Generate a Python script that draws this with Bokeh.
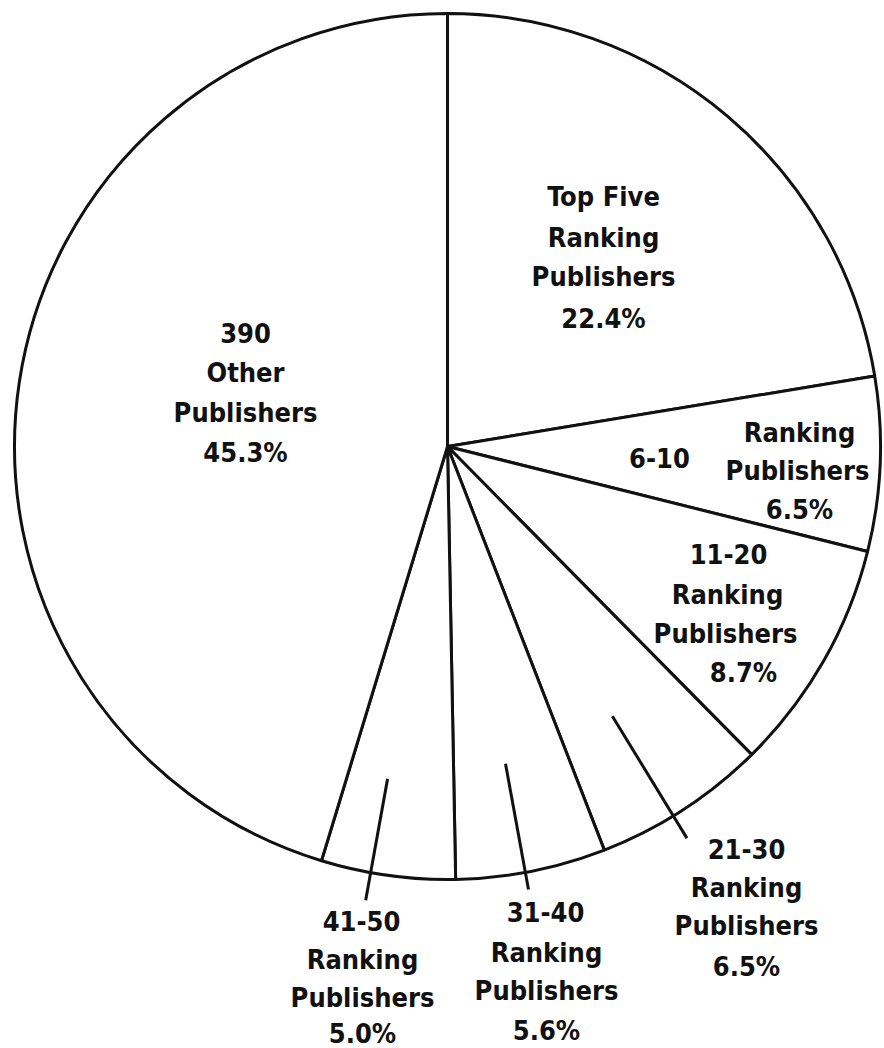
import numpy as np
from bokeh.plotting import figure
from bokeh.models import Range1d, ColumnDataSource
from bokeh.core.properties import value
from bokeh.embed import file_html
from bokeh.resources import INLINE

# ---- data ----
slices = ["Top Five", "6-10", "11-20", "21-30", "31-40", "41-50", "390 Other"]
shares = [22.4, 6.5, 8.7, 6.5, 5.6, 5.0, 45.3]
name_lines = [
    ["Top Five", "Ranking", "Publishers"],
    ["6-10", "Ranking", "Publishers"],
    ["11-20", "Ranking", "Publishers"],
    ["21-30", "Ranking", "Publishers"],
    ["31-40", "Ranking", "Publishers"],
    ["41-50", "Ranking", "Publishers"],
    ["390", "Other", "Publishers"],
]

# ---- layout (pixel coordinates, y measured from top) ----
W, H = 884, 1048
CX, CY, R = 447, 446, 433
text_pos = [
    [(603, 196), (603, 237), (603, 276), (603, 318)],
    [(659, 457), (799, 432), (797, 470), (799, 509)],
    [(728, 553), (727, 594), (725, 633), (743, 672)],
    [(746, 848), (746, 887), (746, 925), (746, 966)],
    [(545, 911), (546, 952), (546, 990), (546, 1030)],
    [(361, 920), (362, 959), (362, 997), (362, 1033)],
    [(245, 332), (245, 372), (245, 412), (245, 452)],
]
# leader lines: (slice index, angle offset deg, inner radius frac, outer radius frac)
leaders = [(3, -1.5, 0.73, 1.06), (4, -0.8, 0.745, 1.04), (5, -2.3, 0.78, 1.065)]

cy_data = H - CY

# wedge angles: start at 12 o'clock, go clockwise
vals = np.array(shares, dtype=float)
bounds = 90.0 - 360.0 * np.concatenate([[0.0], np.cumsum(vals)]) / vals.sum()
start = np.radians(bounds[1:])
end = np.radians(bounds[:-1])
mid = (bounds[1:] + bounds[:-1]) / 2.0

p = figure(width=W, height=H, x_range=Range1d(0, W), y_range=Range1d(0, H),
           output_backend="svg", toolbar_location=None, min_border=0,
           background_fill_color="white", border_fill_color="white")
p.axis.visible = False
p.grid.visible = False
p.outline_line_color = None

src = ColumnDataSource(dict(x=[CX] * len(vals), y=[cy_data] * len(vals),
                            start=start, end=end, name=slices))
p.wedge(x="x", y="y", radius=R, start_angle="start", end_angle="end", source=src,
        fill_color="white", line_color="#111111", line_width=3)

# leader lines
xs, ys = [], []
for idx, off, r0, r1 in leaders:
    a = np.radians(mid[idx] + off)
    xs.append([CX + r0 * R * np.cos(a), CX + r1 * R * np.cos(a)])
    ys.append([cy_data + r0 * R * np.sin(a), cy_data + r1 * R * np.sin(a)])
p.multi_line(xs=xs, ys=ys, line_color="#111111", line_width=3)

# labels
tx, ty, tt = [], [], []
for i, lines in enumerate(name_lines):
    full = lines + [f"{shares[i]:.1f}%"]
    for txt, (px, py) in zip(full, text_pos[i]):
        tx.append(px)
        ty.append(H - py)
        tt.append(txt)
p.text(x=tx, y=ty, text=tt, text_align="center", text_baseline="middle",
       text_font=value("DejaVu Sans Condensed"), text_font_style="bold",
       text_font_size="27px", text_color="#111111")

open("out.html", "w").write(file_html(p, INLINE))
